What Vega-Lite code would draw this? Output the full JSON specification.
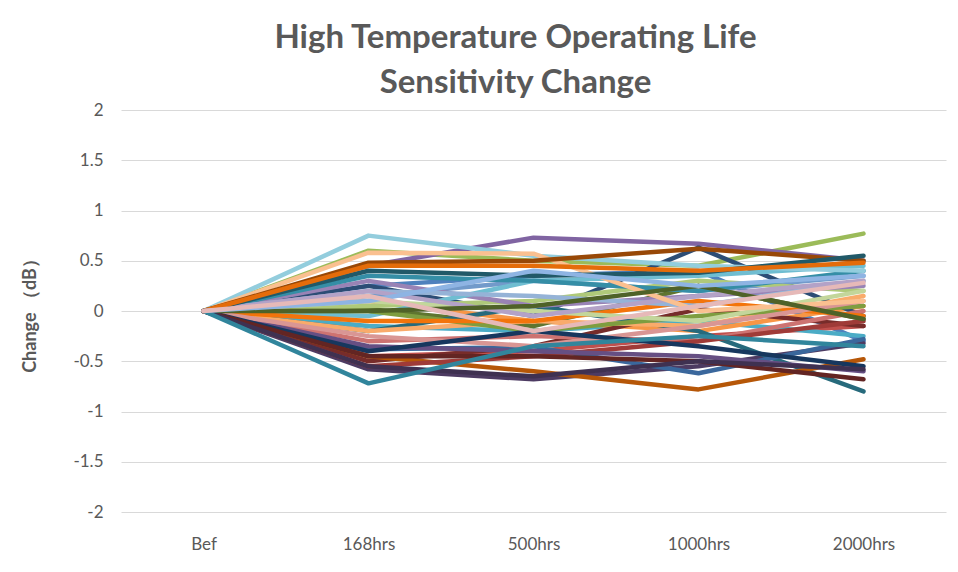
{
  "$schema": "https://vega.github.io/schema/vega-lite/v6.json",
  "width": 825,
  "height": 402,
  "autosize": "none",
  "padding": {"left": 121, "top": 110, "right": 12, "bottom": 60},
  "background": "white",
  "title": {
    "text": ["High Temperature Operating Life", "Sensitivity Change"],
    "font": "Lato",
    "fontSize": 33,
    "fontWeight": "bold",
    "color": "#595959",
    "anchor": "middle",
    "frame": "group",
    "dx": -18,
    "offset": -32,
    "lineHeight": 45,
    "baseline": "bottom"
  },
  "config": {
    "view": {"stroke": null},
    "axis": {"labelFont": "Lato", "titleFont": "Lato", "labelColor": "#595959", "titleColor": "#595959"}
  },
  "datasets": {
    "d": [
      {"s":"s01","t":"Bef","v":0},{"s":"s01","t":"168hrs","v":0.25},{"s":"s01","t":"500hrs","v":0.35},{"s":"s01","t":"1000hrs","v":0.4},{"s":"s01","t":"2000hrs","v":-0.3},
      {"s":"s02","t":"Bef","v":0},{"s":"s02","t":"168hrs","v":-0.45},{"s":"s02","t":"500hrs","v":-0.4},{"s":"s02","t":"1000hrs","v":-0.25},{"s":"s02","t":"2000hrs","v":-0.15},
      {"s":"s03","t":"Bef","v":0},{"s":"s03","t":"168hrs","v":0.6},{"s":"s03","t":"500hrs","v":0.5},{"s":"s03","t":"1000hrs","v":0.45},{"s":"s03","t":"2000hrs","v":0.77},
      {"s":"s04","t":"Bef","v":0},{"s":"s04","t":"168hrs","v":0.45},{"s":"s04","t":"500hrs","v":0.73},{"s":"s04","t":"1000hrs","v":0.67},{"s":"s04","t":"2000hrs","v":0.5},
      {"s":"s05","t":"Bef","v":0},{"s":"s05","t":"168hrs","v":-0.15},{"s":"s05","t":"500hrs","v":-0.2},{"s":"s05","t":"1000hrs","v":-0.1},{"s":"s05","t":"2000hrs","v":-0.25},
      {"s":"s06","t":"Bef","v":0},{"s":"s06","t":"168hrs","v":0.1},{"s":"s06","t":"500hrs","v":-0.1},{"s":"s06","t":"1000hrs","v":-0.2},{"s":"s06","t":"2000hrs","v":0.05},
      {"s":"s07","t":"Bef","v":0},{"s":"s07","t":"168hrs","v":0.25},{"s":"s07","t":"500hrs","v":-0.05},{"s":"s07","t":"1000hrs","v":0.63},{"s":"s07","t":"2000hrs","v":-0.05},
      {"s":"s08","t":"Bef","v":0},{"s":"s08","t":"168hrs","v":-0.5},{"s":"s08","t":"500hrs","v":-0.35},{"s":"s08","t":"1000hrs","v":0.02},{"s":"s08","t":"2000hrs","v":-0.15},
      {"s":"s09","t":"Bef","v":0},{"s":"s09","t":"168hrs","v":0.02},{"s":"s09","t":"500hrs","v":-0.15},{"s":"s09","t":"1000hrs","v":0.25},{"s":"s09","t":"2000hrs","v":-0.08},
      {"s":"s10","t":"Bef","v":0},{"s":"s10","t":"168hrs","v":-0.58},{"s":"s10","t":"500hrs","v":-0.68},{"s":"s10","t":"1000hrs","v":-0.55},{"s":"s10","t":"2000hrs","v":-0.32},
      {"s":"s11","t":"Bef","v":0},{"s":"s11","t":"168hrs","v":-0.2},{"s":"s11","t":"500hrs","v":0.05},{"s":"s11","t":"1000hrs","v":-0.2},{"s":"s11","t":"2000hrs","v":-0.8},
      {"s":"s12","t":"Bef","v":0},{"s":"s12","t":"168hrs","v":-0.45},{"s":"s12","t":"500hrs","v":-0.6},{"s":"s12","t":"1000hrs","v":-0.78},{"s":"s12","t":"2000hrs","v":-0.48},
      {"s":"s13","t":"Bef","v":0},{"s":"s13","t":"168hrs","v":0.15},{"s":"s13","t":"500hrs","v":0.3},{"s":"s13","t":"1000hrs","v":0.2},{"s":"s13","t":"2000hrs","v":0.35},
      {"s":"s14","t":"Bef","v":0},{"s":"s14","t":"168hrs","v":-0.3},{"s":"s14","t":"500hrs","v":-0.25},{"s":"s14","t":"1000hrs","v":-0.3},{"s":"s14","t":"2000hrs","v":0},
      {"s":"s15","t":"Bef","v":0},{"s":"s15","t":"168hrs","v":0.05},{"s":"s15","t":"500hrs","v":0.1},{"s":"s15","t":"1000hrs","v":0.3},{"s":"s15","t":"2000hrs","v":0.2},
      {"s":"s16","t":"Bef","v":0},{"s":"s16","t":"168hrs","v":0.3},{"s":"s16","t":"500hrs","v":0.05},{"s":"s16","t":"1000hrs","v":0.15},{"s":"s16","t":"2000hrs","v":0.25},
      {"s":"s17","t":"Bef","v":0},{"s":"s17","t":"168hrs","v":-0.05},{"s":"s17","t":"500hrs","v":0.3},{"s":"s17","t":"1000hrs","v":0.35},{"s":"s17","t":"2000hrs","v":0.45},
      {"s":"s18","t":"Bef","v":0},{"s":"s18","t":"168hrs","v":-0.2},{"s":"s18","t":"500hrs","v":-0.1},{"s":"s18","t":"1000hrs","v":-0.15},{"s":"s18","t":"2000hrs","v":0.15},
      {"s":"s19","t":"Bef","v":0},{"s":"s19","t":"168hrs","v":-0.38},{"s":"s19","t":"500hrs","v":-0.36},{"s":"s19","t":"1000hrs","v":-0.62},{"s":"s19","t":"2000hrs","v":-0.28},
      {"s":"s20","t":"Bef","v":0},{"s":"s20","t":"168hrs","v":-0.55},{"s":"s20","t":"500hrs","v":-0.45},{"s":"s20","t":"1000hrs","v":-0.3},{"s":"s20","t":"2000hrs","v":-0.1},
      {"s":"s21","t":"Bef","v":0},{"s":"s21","t":"168hrs","v":0},{"s":"s21","t":"500hrs","v":-0.2},{"s":"s21","t":"1000hrs","v":-0.05},{"s":"s21","t":"2000hrs","v":0.05},
      {"s":"s22","t":"Bef","v":0},{"s":"s22","t":"168hrs","v":-0.35},{"s":"s22","t":"500hrs","v":-0.4},{"s":"s22","t":"1000hrs","v":-0.45},{"s":"s22","t":"2000hrs","v":-0.6},
      {"s":"s23","t":"Bef","v":0},{"s":"s23","t":"168hrs","v":0.35},{"s":"s23","t":"500hrs","v":0.3},{"s":"s23","t":"1000hrs","v":0.2},{"s":"s23","t":"2000hrs","v":0.4},
      {"s":"s24","t":"Bef","v":0},{"s":"s24","t":"168hrs","v":-0.1},{"s":"s24","t":"500hrs","v":-0.1},{"s":"s24","t":"1000hrs","v":0.1},{"s":"s24","t":"2000hrs","v":-0.05},
      {"s":"s25","t":"Bef","v":0},{"s":"s25","t":"168hrs","v":0.2},{"s":"s25","t":"500hrs","v":0.15},{"s":"s25","t":"1000hrs","v":0.05},{"s":"s25","t":"2000hrs","v":0.3},
      {"s":"s26","t":"Bef","v":0},{"s":"s26","t":"168hrs","v":-0.25},{"s":"s26","t":"500hrs","v":-0.35},{"s":"s26","t":"1000hrs","v":-0.15},{"s":"s26","t":"2000hrs","v":0.1},
      {"s":"s27","t":"Bef","v":0},{"s":"s27","t":"168hrs","v":0.1},{"s":"s27","t":"500hrs","v":0},{"s":"s27","t":"1000hrs","v":-0.1},{"s":"s27","t":"2000hrs","v":0.2},
      {"s":"s28","t":"Bef","v":0},{"s":"s28","t":"168hrs","v":0.2},{"s":"s28","t":"500hrs","v":-0.05},{"s":"s28","t":"1000hrs","v":0.15},{"s":"s28","t":"2000hrs","v":0.3},
      {"s":"s29","t":"Bef","v":0},{"s":"s29","t":"168hrs","v":0.75},{"s":"s29","t":"500hrs","v":0.55},{"s":"s29","t":"1000hrs","v":0.45},{"s":"s29","t":"2000hrs","v":0.4},
      {"s":"s30","t":"Bef","v":0},{"s":"s30","t":"168hrs","v":0.58},{"s":"s30","t":"500hrs","v":0.57},{"s":"s30","t":"1000hrs","v":0},{"s":"s30","t":"2000hrs","v":0.1},
      {"s":"s31","t":"Bef","v":0},{"s":"s31","t":"168hrs","v":0.48},{"s":"s31","t":"500hrs","v":0.5},{"s":"s31","t":"1000hrs","v":0.62},{"s":"s31","t":"2000hrs","v":0.5},
      {"s":"s32","t":"Bef","v":0},{"s":"s32","t":"168hrs","v":-0.4},{"s":"s32","t":"500hrs","v":-0.2},{"s":"s32","t":"1000hrs","v":-0.35},{"s":"s32","t":"2000hrs","v":-0.55},
      {"s":"s33","t":"Bef","v":0},{"s":"s33","t":"168hrs","v":-0.45},{"s":"s33","t":"500hrs","v":-0.45},{"s":"s33","t":"1000hrs","v":-0.5},{"s":"s33","t":"2000hrs","v":-0.68},
      {"s":"s34","t":"Bef","v":0},{"s":"s34","t":"168hrs","v":0},{"s":"s34","t":"500hrs","v":0.05},{"s":"s34","t":"1000hrs","v":0.25},{"s":"s34","t":"2000hrs","v":-0.08},
      {"s":"s35","t":"Bef","v":0},{"s":"s35","t":"168hrs","v":-0.55},{"s":"s35","t":"500hrs","v":-0.65},{"s":"s35","t":"1000hrs","v":-0.5},{"s":"s35","t":"2000hrs","v":-0.58},
      {"s":"s36","t":"Bef","v":0},{"s":"s36","t":"168hrs","v":0.4},{"s":"s36","t":"500hrs","v":0.35},{"s":"s36","t":"1000hrs","v":0.38},{"s":"s36","t":"2000hrs","v":0.55},
      {"s":"s37","t":"Bef","v":0},{"s":"s37","t":"168hrs","v":-0.72},{"s":"s37","t":"500hrs","v":-0.35},{"s":"s37","t":"1000hrs","v":-0.25},{"s":"s37","t":"2000hrs","v":-0.35},
      {"s":"s38","t":"Bef","v":0},{"s":"s38","t":"168hrs","v":0.45},{"s":"s38","t":"500hrs","v":0.45},{"s":"s38","t":"1000hrs","v":0.4},{"s":"s38","t":"2000hrs","v":0.48},
      {"s":"s39","t":"Bef","v":0},{"s":"s39","t":"168hrs","v":0.1},{"s":"s39","t":"500hrs","v":0.4},{"s":"s39","t":"1000hrs","v":0.25},{"s":"s39","t":"2000hrs","v":0.35},
      {"s":"s40","t":"Bef","v":0},{"s":"s40","t":"168hrs","v":0.15},{"s":"s40","t":"500hrs","v":-0.2},{"s":"s40","t":"1000hrs","v":0.05},{"s":"s40","t":"2000hrs","v":0.28}
    ]
  },
  "data": {"name": "d"},
  "mark": {"type": "line", "strokeWidth": 4.5, "strokeJoin": "round", "strokeCap": "round"},
  "encoding": {
    "x": {
      "field": "t", "type": "nominal",
      "sort": ["Bef", "168hrs", "500hrs", "1000hrs", "2000hrs"],
      "scale": {"type": "point", "padding": 0.5},
      "axis": {"title": null, "labelAngle": 0, "domain": false, "ticks": false, "grid": false, "labelFontSize": 17, "labelPadding": 24}
    },
    "y": {
      "field": "v", "type": "quantitative",
      "scale": {"domain": [-2, 2], "nice": false},
      "axis": {
        "values": [-2, -1.5, -1, -0.5, 0, 0.5, 1, 1.5, 2],
        "labelExpr": "'' + datum.value",
        "title": "Change （dB）",
        "titleFontSize": 18, "titleFontWeight": "bold",
        "titleAngle": 270, "titleX": -91, "titleY": 201, "titleAlign": "center", "titleBaseline": "middle",
        "domain": false, "ticks": false,
        "gridColor": "#D9D9D9", "gridWidth": 1,
        "labelFontSize": 17, "labelPadding": 18
      }
    },
    "color": {
      "field": "s", "type": "nominal", "legend": null,
      "scale": {
        "range": ["#4F81BD","#C0504D","#9BBB59","#8064A2","#4BACC6","#F79646","#2C4D75","#772C2A","#5F7530","#4D3B62","#276A7C","#B65708","#729ACA","#CD7371","#AFC97A","#9983B5","#6FBDD1","#F9AB6B","#3A679C","#9F3B38","#7E9D40","#664F83","#358EA6","#F3740B","#95B3D7","#D99694","#C3D69B","#B3A2C7","#93CDDD","#FAC090","#984807","#17375E","#632523","#4F6228","#3F3151","#215968","#31859C","#E46C0A","#8EB4E3","#E6B9B8"]
      }
    }
  }
}
